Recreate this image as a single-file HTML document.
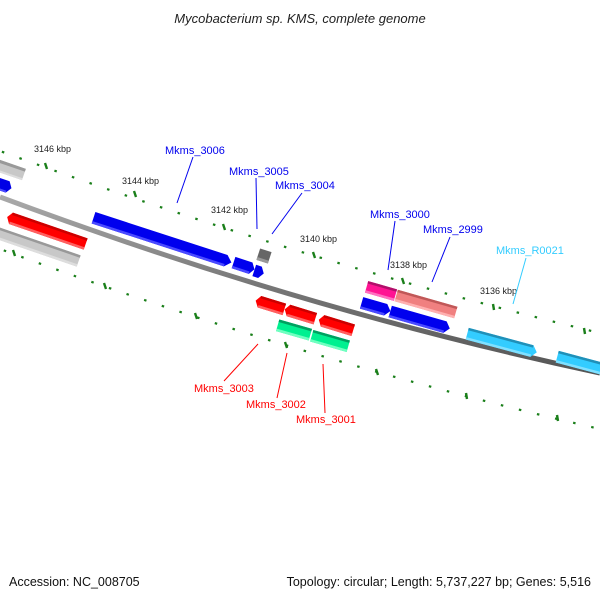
<!DOCTYPE html>
<html><head><meta charset="utf-8"><style>
html,body{margin:0;padding:0;background:#fff;}
svg{display:block;font-family:"Liberation Sans","DejaVu Sans",sans-serif;}
</style></head><body>
<svg width="600" height="600" viewBox="0 0 600 600" xmlns="http://www.w3.org/2000/svg">
<defs>
<linearGradient id="bb" x1="0" y1="0" x2="0" y2="1"><stop offset="0" stop-color="#aaa"/><stop offset="0.5" stop-color="#777"/><stop offset="1" stop-color="#555"/></linearGradient>
</defs>
<text x="300" y="23" text-anchor="middle" font-size="13" font-style="italic" fill="#222">Mycobacterium sp. KMS, complete genome</text>

<!-- dotted tick tracks -->
<path d="M0,151 Q300,261 600,333" fill="none" stroke="#1a7f1a" stroke-width="2.2" stroke-dasharray="2.5 16.1" stroke-dashoffset="-2"/>
<path d="M0,249 Q300,360 600,429" fill="none" stroke="#1a7f1a" stroke-width="2.2" stroke-dasharray="2.5 16.1" stroke-dashoffset="-4"/>
<g stroke="#1a7f1a" stroke-width="2.4">
<line x1="45" y1="163" x2="47" y2="169"/><line x1="134" y1="191" x2="136" y2="197"/><line x1="223" y1="224" x2="225" y2="230"/><line x1="313" y1="252" x2="315" y2="258"/><line x1="402" y1="278" x2="404" y2="284"/><line x1="493" y1="304" x2="494" y2="310"/><line x1="584" y1="328" x2="585" y2="334"/>
<line x1="13" y1="250" x2="15" y2="256"/><line x1="104" y1="283" x2="106" y2="289"/><line x1="195" y1="313" x2="197" y2="319"/><line x1="285" y1="342" x2="287" y2="348"/><line x1="376" y1="369" x2="378" y2="375"/><line x1="466" y1="393" x2="467" y2="399"/><line x1="557" y1="415" x2="558" y2="421"/>
</g>

<!-- backbone -->
<path d="M0,197 Q300,309 600,373" fill="none" stroke="url(#bb)" stroke-width="5"/>

<!-- kbp labels -->
<g font-size="9" fill="#222">
<text x="34" y="152">3146 kbp</text><text x="122" y="184">3144 kbp</text><text x="211" y="213">3142 kbp</text><text x="300" y="242">3140 kbp</text><text x="390" y="268">3138 kbp</text><text x="480" y="294">3136 kbp</text>
</g>

<!-- features -->
<g transform="translate(5,168) rotate(19)"><rect x="-25" y="-6" width="45" height="12" fill="#c8c8c8"/><rect x="-25" y="-6" width="45" height="3" fill="#999"/><rect x="-25" y="4" width="45" height="2" fill="#ddd"/></g>
<g transform="translate(2,185) rotate(19)"><polygon points="-15,-6 6,-6 10,0 6,6 -15,6" fill="#0000e6"/><rect x="-15" y="4" width="21" height="2" fill="#4a4aff"/></g>
<g transform="translate(45,230) rotate(19)"><polygon points="-40,0 -36,-6 43,-6 43,6 -36,6" fill="#f00"/><rect x="-36" y="-6" width="79" height="2.5" fill="#c00"/><rect x="-36" y="3.5" width="79" height="2.5" fill="#ff6060"/></g>
<g transform="translate(38,247) rotate(19)"><rect x="-50" y="-6" width="93" height="12" fill="#c8c8c8"/><rect x="-50" y="-6" width="93" height="2.5" fill="#999"/><rect x="-50" y="3.5" width="93" height="2.5" fill="#ddd"/></g>
<g transform="translate(162,240) rotate(18)"><polygon points="-72,-6 67,-6 73,0 67,6 -72,6" fill="#0000ee"/><rect x="-72" y="3.5" width="139" height="2.5" fill="#4a4aff"/></g>
<g transform="translate(244,266) rotate(18)"><polygon points="-11,-6 7,-6 11,0 7,6 -11,6" fill="#0000ee"/><rect x="-11" y="3.5" width="18" height="2.5" fill="#4a4aff"/></g>
<g transform="translate(259,272) rotate(18)"><polygon points="-5,-6 1,-6 5,0 1,6 -5,6" fill="#0000ee"/></g>
<g transform="translate(264,256) rotate(18)"><rect x="-6" y="-6" width="12" height="12" fill="#666"/><rect x="-6" y="3" width="12" height="3" fill="#999"/></g>
<g transform="translate(270,305) rotate(17)"><polygon points="-15,0 -11,-6 15,-6 15,6 -11,6" fill="#f00"/><rect x="-11" y="-6" width="26" height="2.5" fill="#c00"/><rect x="-11" y="3.5" width="26" height="2.5" fill="#ff6060"/></g>
<g transform="translate(300,314) rotate(17)"><polygon points="-16,0 -12,-6 16,-6 16,6 -12,6" fill="#f00"/><rect x="-12" y="-6" width="28" height="2.5" fill="#c00"/><rect x="-12" y="3.5" width="28" height="2.5" fill="#ff6060"/></g>
<g transform="translate(336,325) rotate(17)"><polygon points="-18,0 -14,-6 18,-6 18,6 -14,6" fill="#f00"/><rect x="-14" y="-6" width="32" height="2.5" fill="#c00"/><rect x="-14" y="3.5" width="32" height="2.5" fill="#ff6060"/></g>
<g transform="translate(294,330) rotate(16)"><rect x="-17" y="-6" width="34" height="12" fill="#00f090"/><rect x="-17" y="-6" width="34" height="2.5" fill="#00a060"/><rect x="-17" y="3.5" width="34" height="2.5" fill="#70ffc0"/></g>
<g transform="translate(330,341) rotate(16)"><rect x="-19" y="-6" width="38" height="12" fill="#00f090"/><rect x="-19" y="-6" width="38" height="2.5" fill="#00a060"/><rect x="-19" y="3.5" width="38" height="2.5" fill="#70ffc0"/></g>
<g transform="translate(381,291) rotate(16)"><rect x="-15" y="-6" width="30" height="12" fill="#ff1493"/><rect x="-15" y="-6" width="30" height="2.5" fill="#b0106a"/><rect x="-15" y="3.5" width="30" height="2.5" fill="#ff70c0"/></g>
<g transform="translate(426,304) rotate(16)"><rect x="-31" y="-6" width="62" height="12" fill="#f08080"/><rect x="-31" y="-6" width="62" height="2.5" fill="#c05858"/><rect x="-31" y="3.5" width="62" height="2.5" fill="#ffb0b0"/></g>
<g transform="translate(376,307) rotate(16)"><polygon points="-15,-6 10,-6 15,0 10,6 -15,6" fill="#0000ee"/><rect x="-15" y="3.5" width="25" height="2.5" fill="#4a4aff"/></g>
<g transform="translate(420,320) rotate(16)"><polygon points="-31,-6 26,-6 31,0 26,6 -31,6" fill="#0000ee"/><rect x="-31" y="3.5" width="57" height="2.5" fill="#4a4aff"/></g>
<g transform="translate(502,343) rotate(15)"><polygon points="-36,-6 31,-6 36,0 31,6 -36,6" fill="#33ccff"/><rect x="-36" y="-6" width="67" height="2.5" fill="#2090b8"/><rect x="-36" y="3.5" width="67" height="2.5" fill="#80e0ff"/></g>
<g transform="translate(592,366) rotate(15)"><rect x="-36" y="-6" width="72" height="12" fill="#33ccff"/><rect x="-36" y="-6" width="72" height="2.5" fill="#2090b8"/><rect x="-36" y="3.5" width="72" height="2.5" fill="#80e0ff"/></g>

<!-- gene labels -->
<g font-size="11">
<g stroke="#0000ee" stroke-width="1"><line x1="193" y1="157" x2="177" y2="203"/><line x1="256" y1="178" x2="257" y2="229"/><line x1="302" y1="193" x2="272" y2="234"/><line x1="395" y1="221" x2="388" y2="270"/><line x1="450" y1="237" x2="432" y2="282"/></g>
<line x1="526" y1="258" x2="513" y2="304" stroke="#33ccff"/>
<g stroke="#f00" stroke-width="1"><line x1="224" y1="381" x2="258" y2="344"/><line x1="277" y1="398" x2="287" y2="353"/><line x1="325" y1="413" x2="323" y2="364"/></g>
<g fill="#0000ee"><text x="165" y="154">Mkms_3006</text><text x="229" y="175">Mkms_3005</text><text x="275" y="189">Mkms_3004</text><text x="370" y="218">Mkms_3000</text><text x="423" y="233">Mkms_2999</text></g>
<text x="496" y="254" fill="#33ccff">Mkms_R0021</text>
<g fill="#f00"><text x="194" y="392">Mkms_3003</text><text x="246" y="408">Mkms_3002</text><text x="296" y="423">Mkms_3001</text></g>
</g>

<text x="9" y="586" font-size="12.5" fill="#111">Accession: NC_008705</text>
<text x="591" y="586" font-size="12.5" fill="#111" text-anchor="end">Topology: circular; Length: 5,737,227 bp; Genes: 5,516</text>
</svg>
</body></html>
